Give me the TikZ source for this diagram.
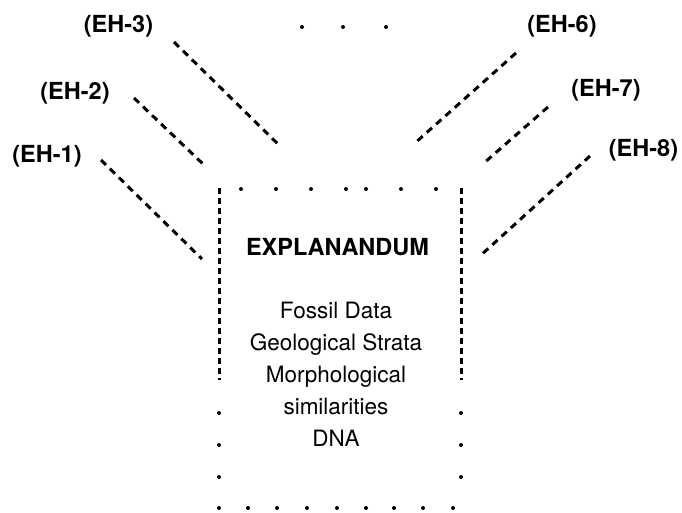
\documentclass[tikz,border=0pt]{standalone}
\usepackage{fontspec}
\setmainfont{TeX Gyre Heros}
\usepackage{tikz}
\usetikzlibrary{positioning}

\tikzset{
  hyplabel/.style={font=\fontsize{23.5}{28}\selectfont\bfseries, inner sep=0pt, anchor=base},
  bodytext/.style={font=\fontsize{22.5}{27}\selectfont, inner sep=0pt, anchor=base},
  hypline/.style={line width=3pt, dash pattern=on 7pt off 5.5pt},
  sideline/.style={line width=3pt, dash pattern=on 6pt off 4pt},
  dot/.style={fill=black}
}

\begin{document}
\begin{tikzpicture}[x=1pt,y=-1pt]
\useasboundingbox (0,0) rectangle (682,513);

% hypotheses
\node[hyplabel] (eh1) at (47,163) {(EH-1)};
\node[hyplabel] (eh2) at (75,100) {(EH-2)};
\node[hyplabel] (eh3) at (118.5,33) {(EH-3)};
\node[hyplabel] (eh6) at (562,33) {(EH-6)};
\node[hyplabel] (eh7) at (606,97) {(EH-7)};
\node[hyplabel] (eh8) at (643.5,157) {(EH-8)};
\foreach \x in {302,343,386}
  \fill[dot] (\x,27) circle (2);

% explanandum
\node[hyplabel] (explanandum) at (337.5,255) {EXPLANANDUM};
\foreach \t [count=\i] in {Fossil Data, Geological Strata, Morphological, similarities, DNA}
  \node[bodytext] (line\i) at (336,286+32*\i) {\t};

% box
\coordinate (boxtl) at (219,188);
\coordinate (boxbl) at (219,380);
\coordinate (boxtr) at (461,188);
\coordinate (boxbr) at (461,380);
\draw[sideline] (boxtl) -- (boxbl);
\draw[sideline] (boxtr) -- (boxbr);
\foreach \x in {241,276,311,346,366,401,436}
  \fill[dot] (\x,189) circle (2);
\foreach \y in {413,445,477}{
  \fill[dot] (219,\y) circle (2);
  \fill[dot] (461,\y) circle (2);
}
\foreach \x in {219,248,277,307,337,366,394,423,453}
  \fill[dot] (\x,508) circle (2);

% connectors
\coordinate (eh1a) at (101,160); \coordinate (eh1b) at (202,259);
\coordinate (eh2a) at (134,98);  \coordinate (eh2b) at (203,164);
\coordinate (eh3a) at (174,42);  \coordinate (eh3b) at (281,147);
\coordinate (eh6a) at (516,53);  \coordinate (eh6b) at (415,143);
\coordinate (eh7a) at (548,107); \coordinate (eh7b) at (484,163);
\coordinate (eh8a) at (590,156); \coordinate (eh8b) at (480,256);
\foreach \n in {1,2,3,6,7,8}
  \draw[hypline] (eh\n a) -- (eh\n b);
\end{tikzpicture}
\end{document}
